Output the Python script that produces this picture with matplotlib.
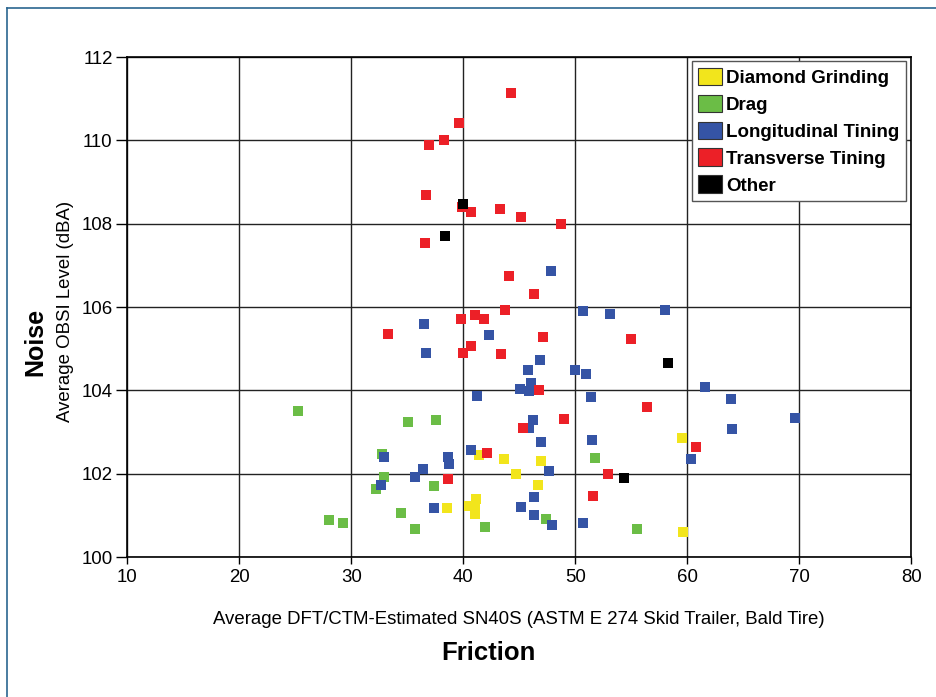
import matplotlib
matplotlib.use("Agg")
import matplotlib.pyplot as plt
from matplotlib.patches import Patch
from matplotlib.lines import Line2D

plt.rcParams['font.family'] = ['Liberation Sans', 'DejaVu Sans']

# friction (x) and noise (y) per texture type
diamond_x = [41.4, 43.6, 46.9, 44.7, 46.7, 41.1, 40.5, 41.05, 41.0, 38.55, 59.5, 59.6]
diamond_y = [102.45, 102.35, 102.3, 101.99, 101.73, 101.39, 101.22, 101.15, 101.03, 101.17, 102.85, 100.6]

drag_x = [25.25, 35.06, 37.56, 32.74, 32.93, 32.2, 37.41, 34.44, 27.98, 29.26, 35.66, 41.91, 47.35, 51.73, 55.48]
drag_y = [103.5, 103.24, 103.29, 102.47, 101.93, 101.63, 101.7, 101.06, 100.88, 100.81, 100.67, 100.71, 100.91, 102.38, 100.67]

long_x = [47.8, 50.7, 36.49, 42.3, 36.7, 46.85, 45.8, 50.0, 50.96, 46.05, 45.09, 45.89, 41.2,
          51.4, 46.25, 45.84, 51.46, 46.94, 40.72, 32.95, 38.66, 38.75, 47.66, 36.37, 35.71,
          32.65, 46.29, 37.36, 45.15, 46.31, 47.95, 50.71, 53.1, 58.04, 61.57, 63.93, 69.64,
          63.96, 60.35]
long_y = [106.86, 105.9, 105.59, 105.33, 104.89, 104.74, 104.5, 104.48, 104.39, 104.17, 104.03,
          103.98, 103.87, 103.84, 103.28, 103.09, 102.82, 102.76, 102.57, 102.4, 102.39, 102.23,
          102.06, 102.11, 101.92, 101.73, 101.43, 101.18, 101.19, 101.01, 100.76, 100.81, 105.83,
          105.93, 104.07, 103.79, 103.33, 103.07, 102.35]

trans_x = [44.29, 39.59, 38.3, 36.94, 36.7, 39.9, 40.66, 43.25, 45.12, 48.75, 36.6, 44.05, 46.34,
           43.7, 39.8, 41.02, 41.85, 33.25, 47.12, 40.72, 39.95, 43.4, 46.76, 49.02, 45.36, 42.14,
           38.66, 51.55, 54.95, 56.38, 60.8, 52.95]
trans_y = [111.13, 110.41, 110.0, 109.89, 108.69, 108.39, 108.28, 108.35, 108.16, 108.0, 107.53,
           106.74, 106.32, 105.92, 105.72, 105.8, 105.72, 105.36, 105.28, 105.07, 104.89, 104.87,
           104.0, 103.31, 103.09, 102.5, 101.87, 101.47, 105.23, 103.59, 102.65, 101.99]

other_x = [39.95, 38.34, 58.25, 54.35]
other_y = [108.47, 107.7, 104.66, 101.89]

labels = ["Diamond Grinding", "Drag", "Longitudinal Tining", "Transverse Tining", "Other"]
colors = ["#F2E51C", "#6BBD46", "#3554A5", "#EC2027", "#000000"]
xs = [diamond_x, drag_x, long_x, trans_x, other_x]
ys = [diamond_y, drag_y, long_y, trans_y, other_y]

fig = plt.figure(figsize=(9.36, 6.97), dpi=100)
ax = fig.add_axes([127.3 / 936, 140 / 697, 784 / 936, 500 / 697])

for x, y, c in zip(xs, ys, colors):
    ax.scatter(x, y, marker='s', s=42, color=c, linewidths=0, zorder=3)

ax.set_xlim(10, 80)
ax.set_ylim(100, 112)
ax.set_xticks(range(10, 81, 10))
ax.set_yticks(range(100, 113, 2))
ax.grid(True, color='#222222', linewidth=1.0)
ax.set_axisbelow(True)
for sp in ax.spines.values():
    sp.set_color('black')
    sp.set_linewidth(1.2)
ax.tick_params(axis='x', direction='out', length=5, width=1, pad=3.5, labelsize=13.4)
ax.tick_params(axis='y', direction='out', length=8, width=1, pad=2.5, labelsize=13.4)

handles = [Patch(facecolor=c, edgecolor='#333333', linewidth=0.8) for c in colors]
leg = ax.legend(handles, labels, loc='upper right', bbox_to_anchor=(0.9933, 0.992),
                borderaxespad=0, prop={'weight': 'bold', 'size': 13.5},
                handlelength=1.3, handleheight=1.05, handletextpad=0.2,
                labelspacing=0.42, borderpad=0.35, fancybox=False, framealpha=1)
leg.get_frame().set_edgecolor('#555555')
leg.get_frame().set_linewidth(1.0)

fig.text(519.3 / 936, (697 - 619) / 697, "Average DFT/CTM-Estimated SN40S (ASTM E 274 Skid Trailer, Bald Tire)",
         ha='center', va='center', fontsize=13.4)
fig.text(488 / 936, (697 - 653) / 697, "Friction", ha='center', va='center',
         fontsize=18.5, fontweight='bold')
fig.text(66 / 936, (697 - 311.5) / 697, "Average OBSI Level (dBA)", ha='center', va='center',
         rotation=90, fontsize=13.4)
fig.text(35 / 936, (697 - 342) / 697, "Noise", ha='center', va='center', rotation=90,
         fontsize=18, fontweight='bold')

# outer frame (only left and top edges visible)
fig.add_artist(Line2D([7 / 936, 7 / 936], [0, 1 - 8 / 697], transform=fig.transFigure,
                      color='#2A6690', linewidth=1.2))
fig.add_artist(Line2D([7 / 936, 1], [1 - 8 / 697, 1 - 8 / 697], transform=fig.transFigure,
                      color='#2A6690', linewidth=1.2))

fig.savefig("out.png", dpi=100)
